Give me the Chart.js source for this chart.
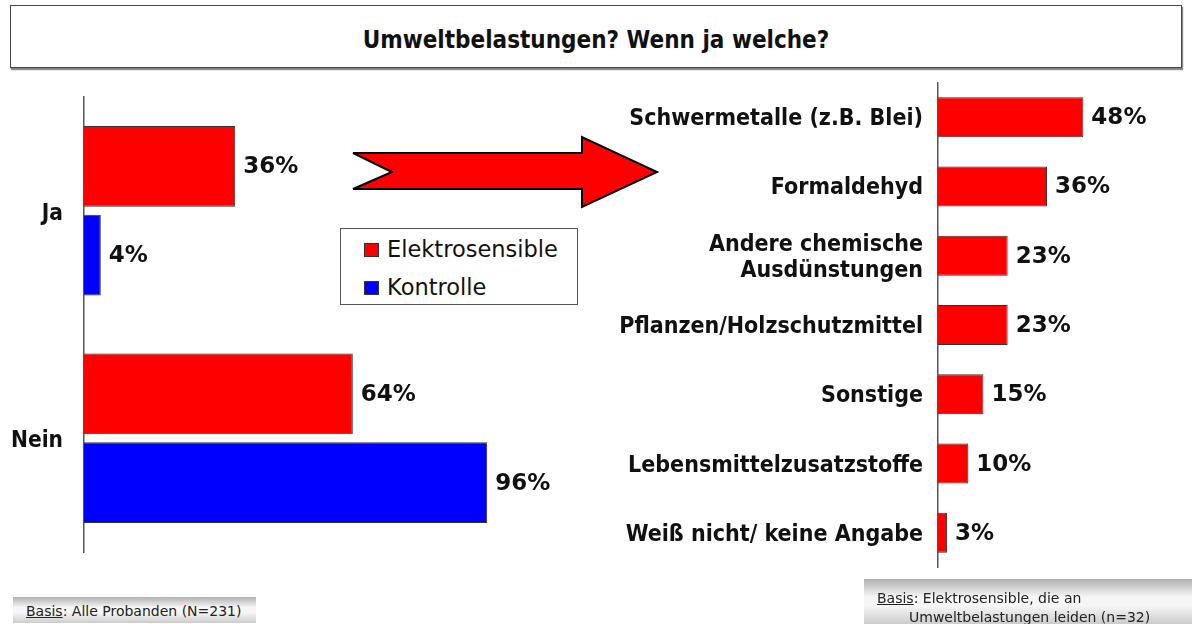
<!DOCTYPE html>
<html>
<head>
<meta charset="utf-8">
<script src="https://cdn.jsdelivr.net/npm/chart.js@4"></script>
<style>
  html, body { margin: 0; padding: 0; background: #fff; }
  body { width: 1192px; height: 624px; position: relative; overflow: hidden;
         font-family: "DejaVu Sans", sans-serif; color: #111; }
  #title { position: absolute; left: 10px; top: 5px; width: 1170px; height: 61px;
           border: 1px solid #444; box-shadow: 1px 2px 1px #888;
           font-family: "DejaVu Sans Condensed", "DejaVu Sans", sans-serif;
           font-weight: bold; font-size: 24px; line-height: 69px; text-align: center; }
  #leftWrap { position: absolute; left: 0; top: 80px; width: 600px; height: 490px; }
  #rightWrap { position: absolute; left: 600px; top: 70px; width: 592px; height: 510px; }
  #arrow { position: absolute; left: 0; top: 0; }
  #legend { position: absolute; left: 340px; top: 228px; width: 236px; height: 75px;
            border: 1px solid #555; background: #fff; font-size: 22.5px; }
  #legend .item { position: absolute; left: 23px; height: 28px; line-height: 28px; white-space: nowrap; }
  #legend .sw { display: inline-block; width: 15px; height: 14px; border: 1px solid #333;
                vertical-align: 0px; margin-right: 8px; box-sizing: border-box; }
  .note { position: absolute; font-size: 14px; color: #222; white-space: nowrap;
          background: linear-gradient(to bottom, #b0b0b0 0%, #f6f6f6 40%, #f6f6f6 60%, #cccccc 100%); }
  .note u { text-decoration: underline; }
</style>
</head>
<body>
<div id="title">Umweltbelastungen? Wenn ja welche?</div>

<div id="leftWrap"><canvas id="leftChart"></canvas></div>
<div id="rightWrap"><canvas id="rightChart"></canvas></div>

<svg id="arrow" width="1192" height="624">
  <polygon points="353,153 582,153 582,137 657,172 582,207 582,189 353,189 392,172"
           fill="#ff0000" stroke="#000" stroke-width="2" stroke-linejoin="miter"/>
</svg>

<div id="legend"></div>

<div class="note" style="left:13px; top:597px; width:243px; height:26px; line-height:29px;">
  <span style="margin-left:13px;"><u>Basis</u>: Alle Probanden (N=231)</span>
</div>
<div class="note" style="left:864px; top:579px; width:328px; height:45px; line-height:19px;">
  <div style="margin-left:13px; margin-top:10px;"><u>Basis</u>: Elektrosensible, die an</div>
  <div style="margin-left:45px;">Umweltbelastungen leiden (n=32)</div>
</div>

<script>
// left chart: Umweltbelastungen ja / nein
const answerCategories = ['Ja', 'Nein'];
const seriesNames = ['Elektrosensible', 'Kontrolle'];
const elektroValues = [36, 64];
const kontrolleValues = [4, 96];

// right chart: welche Belastungen (Elektrosensible)
const typeCategories = [
  'Schwermetalle (z.B. Blei)',
  'Formaldehyd',
  ['Andere chemische', 'Ausdünstungen'],
  'Pflanzen/Holzschutzmittel',
  'Sonstige',
  'Lebensmittelzusatzstoffe',
  'Weiß nicht/ keine Angabe'
];
const typeValues = [48, 36, 23, 23, 15, 10, 3];

const seriesColors = ['#ff0000', '#0000ff'];
const LABEL_FONT = '"DejaVu Sans Condensed", "DejaVu Sans", sans-serif';
const VALUE_FONT = '"DejaVu Sans", sans-serif';

Chart.defaults.font.family = LABEL_FONT;
Chart.defaults.color = '#111';
Chart.defaults.animation = false;

// writes "NN%" right of each bar end
const valueLabels = {
  id: 'valueLabels',
  afterDatasetsDraw(chart) {
    const ctx = chart.ctx;
    ctx.save();
    ctx.font = 'bold 23px ' + VALUE_FONT;
    ctx.fillStyle = '#111';
    ctx.textAlign = 'left';
    ctx.textBaseline = 'middle';
    chart.data.datasets.forEach(function (ds, i) {
      chart.getDatasetMeta(i).data.forEach(function (bar, j) {
        ctx.fillText(ds.data[j] + '%', bar.x + 8, bar.y + 1);
      });
    });
    ctx.restore();
  }
};

// fixed axis width, no extra padding for the tick label heights
function fixAxis(width) {
  return function (s) {
    s.width = width;
    s.paddingTop = 0;
    s.paddingBottom = 0;
  };
}

const leftChart = new Chart(document.getElementById('leftChart'), {
  type: 'bar',
  data: {
    labels: answerCategories,
    datasets: [
      { label: seriesNames[0], data: elektroValues, backgroundColor: seriesColors[0] },
      { label: seriesNames[1], data: kontrolleValues, backgroundColor: seriesColors[1] }
    ]
  },
  options: {
    indexAxis: 'y',
    responsive: true,
    maintainAspectRatio: false,
    datasets: { bar: { borderWidth: 1, borderColor: '#333', barPercentage: 0.91, categoryPercentage: 0.78 } },
    layout: { padding: { top: 17, bottom: 18, right: 96, left: 0 } },
    plugins: { legend: { display: false }, tooltip: { enabled: false } },
    scales: {
      x: { display: false, min: 0, max: 100 },
      y: {
        afterFit: fixAxis(84),
        grid: { display: false },
        border: { display: true, color: '#555', width: 1.5 },
        ticks: { padding: 13, labelOffset: 3, color: '#111', font: { size: 22.5, weight: 'bold' } }
      }
    }
  },
  plugins: [valueLabels]
});

const rightChart = new Chart(document.getElementById('rightChart'), {
  type: 'bar',
  data: {
    labels: typeCategories,
    datasets: [
      { label: seriesNames[0], data: typeValues, backgroundColor: seriesColors[0] }
    ]
  },
  options: {
    indexAxis: 'y',
    responsive: true,
    maintainAspectRatio: false,
    datasets: { bar: { borderWidth: 1, borderColor: '#333', barPercentage: 0.577, categoryPercentage: 1 } },
    layout: { padding: { top: 12.5, bottom: 12.5, right: 42, left: 0 } },
    plugins: { legend: { display: false }, tooltip: { enabled: false } },
    scales: {
      x: { display: false, min: 0, max: 70 },
      y: {
        afterFit: fixAxis(338),
        grid: { display: false },
        border: { display: true, color: '#555', width: 1.5 },
        ticks: { padding: 7, labelOffset: 2, color: '#111', font: { size: 23, weight: 'bold', lineHeight: 1.13 } }
      }
    }
  },
  plugins: [valueLabels]
});

// legend box built from the left chart's datasets
const legendBox = document.getElementById('legend');
leftChart.data.datasets.forEach(function (ds, i) {
  const item = document.createElement('div');
  item.className = 'item';
  item.style.top = (6 + i * 38) + 'px';
  item.innerHTML = '<span class="sw" style="background:' + ds.backgroundColor + '"></span>' + ds.label;
  legendBox.appendChild(item);
});
</script>
</body>
</html>
